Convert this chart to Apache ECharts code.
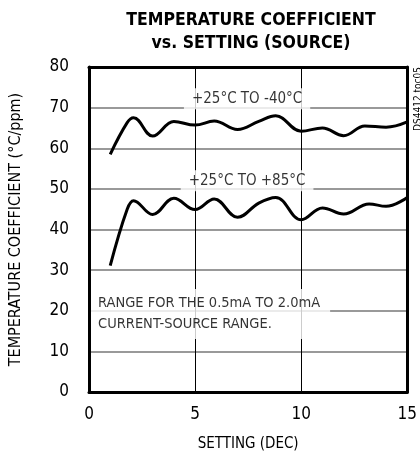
<!DOCTYPE html>
<html>
<head>
<meta charset="utf-8">
<script src="https://cdn.jsdelivr.net/npm/echarts@6/dist/echarts.min.js"></script>
<style>
html,body{margin:0;padding:0;background:#fff;}
#c{width:420px;height:457px;}
</style>
</head>
<body>
<div id="c"></div>
<script>
var settingsUpper = [1, 1.8, 2.1, 3, 4, 5, 5.9, 7, 8, 8.8, 10, 11, 12, 13, 14, 15];
var tcUpper = [58.5, 66.3, 67.5, 63.0, 66.6, 65.7, 66.7, 64.6, 66.6, 68.0, 64.2, 65.0, 63.1, 65.5, 65.2, 66.5];
var settingsLower = [1, 1.8, 2.1, 3, 4, 5, 5.9, 7, 8, 8.8, 10, 11, 12, 13.2, 14, 15];
var tcLower = [31.1, 45.0, 47.1, 43.7, 47.7, 44.9, 47.5, 43.0, 46.5, 47.9, 42.4, 45.3, 43.8, 46.3, 45.7, 47.9];
var xTicks = [0, 5, 10, 15];
var yTicks = [0, 10, 20, 30, 40, 50, 60, 70, 80];
var noteUpper = '+25°C TO -40°C';
var noteLower = '+25°C TO +85°C';
var noteRange = 'RANGE FOR THE 0.5mA TO 2.0mA\nCURRENT-SOURCE RANGE.';
var titleText = 'TEMPERATURE COEFFICIENT\nvs. SETTING (SOURCE)';
var xName = 'SETTING (DEC)';
var yName = 'TEMPERATURE COEFFICIENT (°C/ppm)';
var tag = 'DS4412 toc05';

var FONT = '"DejaVu Sans Condensed", "Liberation Sans", Arial, sans-serif';

function pairs(xs, ys) { return xs.map(function (x, i) { return [x, ys[i]]; }); }

var frameLine = {show: true, onZero: false, lineStyle: {color: '#000', width: 3}};
var xRange = {type: 'value', min: xTicks[0], max: xTicks[xTicks.length - 1], interval: 5};
var yRange = {type: 'value', min: yTicks[0], max: yTicks[yTicks.length - 1], interval: 10};
function frameAxis(base, pos) {
  return Object.assign({}, base, {
    position: pos, z: 10, axisLine: frameLine, axisTick: {show: false},
    axisLabel: {show: false}, splitLine: {show: false}
  });
}

var chart = echarts.init(document.getElementById('c'), null, {renderer: 'canvas'});
chart.setOption({
  animation: false,
  backgroundColor: '#fff',
  title: {
    text: titleText,
    left: 246, top: 4, textAlign: 'center',
    textStyle: {fontFamily: FONT, fontWeight: 'bold', fontSize: 17.5, lineHeight: 23, color: '#000'}
  },
  grid: {left: 82, right: 10, top: 67, bottom: 61, show: false},
  xAxis: [Object.assign({}, xRange, {
    name: xName, nameLocation: 'middle', nameGap: 45,
    nameTextStyle: {fontFamily: FONT, fontSize: 15, color: '#000'},
    axisLine: {show: false}, axisTick: {show: false},
    axisLabel: {fontFamily: FONT, fontSize: 17, color: '#000', margin: 14},
    splitLine: {show: true, lineStyle: {color: '#000', width: 1}}
  }), frameAxis(xRange, 'top'), frameAxis(xRange, 'bottom')],
  yAxis: [Object.assign({}, yRange, {
    name: yName, nameLocation: 'middle', nameGap: 65,
    nameTextStyle: {fontFamily: FONT, fontSize: 16, color: '#000'},
    axisLine: {show: false}, axisTick: {show: false},
    axisLabel: {fontFamily: FONT, fontSize: 17, color: '#000', margin: 20},
    splitLine: {show: true, lineStyle: {color: '#777', width: 1.5}}
  }), frameAxis(yRange, 'right'), frameAxis(yRange, 'left')],
  series: [
    {
      type: 'scatter', name: 'notes', symbolSize: 0, silent: true, z: 3,
      data: [
        {value: [7.45, 72.2], label: {formatter: noteUpper}},
        {value: [7.45, 52.0], label: {formatter: noteLower}}
      ],
      label: {
        show: true, position: 'inside', color: '#000', fontFamily: FONT, fontSize: 15,
        backgroundColor: '#fff', padding: [3, 8, 3, 8]
      }
    },
    {
      type: 'scatter', name: 'rangeNote', symbolSize: 0, silent: true, z: 3, clip: false,
      data: [{value: [-0.09, 19.2], label: {formatter: noteRange}}],
      label: {
        show: true, position: 'right', distance: 0, align: 'left', color: '#000', fontFamily: FONT, fontSize: 14.5,
        lineHeight: 21, backgroundColor: '#fff', padding: [4, 10, 4, 11]
      }
    },
    {
      type: 'line', name: 'upper', data: pairs(settingsUpper, tcUpper), smooth: 0.4, showSymbol: false, z: 4,
      lineStyle: {color: '#000', width: 3}
    },
    {
      type: 'line', name: 'lower', data: pairs(settingsLower, tcLower), smooth: 0.4, showSymbol: false, z: 4,
      lineStyle: {color: '#000', width: 3}
    }
  ],
  graphic: [{
    type: 'text', x: 418, y: 99, rotation: Math.PI / 2,
    style: {text: tag, fontFamily: FONT, fontSize: 10, fill: '#000', align: 'center', verticalAlign: 'middle'}
  }]
});
</script>
</body>
</html>
